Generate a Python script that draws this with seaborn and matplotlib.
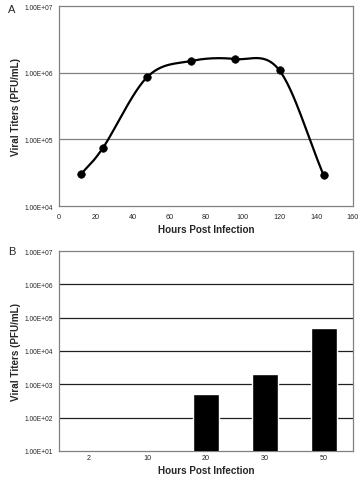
import numpy as np
import pandas as pd
import matplotlib
matplotlib.use("Agg")
import matplotlib.pyplot as plt
from matplotlib.ticker import FuncFormatter, FixedLocator
import seaborn as sns

# Panel A: time course
hours_a = [12, 24, 48, 72, 96, 120, 144]
titer_a = [3.0e4, 7.5e4, 8.6e5, 1.5e6, 1.6e6, 1.08e6, 2.9e4]

# Panel B: bar chart
hours_b = ["2", "10", "20", "30", "50"]
titer_b = [0, 0, 5.3e2, 2.0e3, 4.9e4]

sns.set_style("white")
plt.rcParams['font.family'] = ['Liberation Sans', 'DejaVu Sans']


def smooth(x, y, n=30):
    # Excel-like smoothed line: Catmull-Rom through the points in (x, log y)
    px = np.asarray(x, float)
    py = np.log10(np.asarray(y, float))
    px = np.concatenate([[2 * px[0] - px[1]], px, [2 * px[-1] - px[-2]]])
    py = np.concatenate([[2 * py[0] - py[1]], py, [2 * py[-1] - py[-2]]])
    xs, ys = [], []
    t = np.linspace(0, 1, n)
    for i in range(1, len(px) - 2):
        for arr, out in ((px, xs), (py, ys)):
            p0, p1, p2, p3 = arr[i - 1], arr[i], arr[i + 1], arr[i + 2]
            out.extend(0.5 * (2 * p1 + (-p0 + p2) * t
                              + (2 * p0 - 5 * p1 + 4 * p2 - p3) * t ** 2
                              + (-p0 + 3 * p1 - 3 * p2 + p3) * t ** 3))
    return np.array(xs), 10 ** np.array(ys)


sci = FuncFormatter(lambda v, pos: f"{v:.2E}")
frame = "#808080"
W, H = 361, 485

fig = plt.figure(figsize=(W / 100, H / 100), dpi=100)
axA = fig.add_axes([59 / W, 1 - 207 / H, 294 / W, 200 / H])
axB = fig.add_axes([59 / W, 1 - 452 / H, 294 / W, 200 / H])

# ---- Panel A
sx, sy = smooth(hours_a, titer_a)
curve = pd.DataFrame({"h": sx, "t": sy})
pts = pd.DataFrame({"h": hours_a, "t": titer_a})
axA.set_yscale("log")
sns.lineplot(data=curve, x="h", y="t", ax=axA, color="black", lw=1.6, sort=False)
sns.scatterplot(data=pts, x="h", y="t", ax=axA, color="black", s=30, edgecolor="black", zorder=5)
axA.set_xlim(0, 160)
axA.set_ylim(1e4, 1e7)
axA.set_xticks(range(0, 161, 20))
axA.yaxis.set_major_locator(FixedLocator([1e4, 1e5, 1e6, 1e7]))
axA.yaxis.set_minor_locator(FixedLocator([]))
axA.yaxis.set_major_formatter(sci)
for v in [1e5, 1e6]:
    axA.axhline(v, color="#808080", lw=0.9, zorder=0)

# ---- Panel B
bars = pd.DataFrame({"h": hours_b, "t": titer_b})
axB.set_yscale("log")
sns.barplot(data=bars, x="h", y="t", ax=axB, color="black", width=0.44,
            saturation=1, order=hours_b, zorder=3)
axB.set_xlim(-0.5, 4.5)
axB.set_ylim(1e1, 1e7)
axB.yaxis.set_major_locator(FixedLocator([10.0 ** k for k in range(1, 8)]))
axB.yaxis.set_minor_locator(FixedLocator([]))
axB.yaxis.set_major_formatter(sci)
axB.set_xticks(range(len(hours_b)))
axB.set_xticklabels(hours_b)
axB.set_xticks(np.arange(-0.5, 4.6, 1), minor=True)
axB.tick_params(axis="x", which="major", length=0)
axB.tick_params(axis="x", which="minor", length=3, color=frame, width=0.8)
for k in range(2, 7):
    axB.axhline(10.0 ** k, color="#202020", lw=0.9, zorder=0)

for ax in (axA, axB):
    for s in ax.spines.values():
        s.set_color(frame)
        s.set_linewidth(0.9)
    ax.tick_params(axis="y", which="major", length=3, color=frame, width=0.8,
                   labelsize=4.8, pad=1.5)
    ax.tick_params(axis="x", labelsize=5.2, pad=2)
    ax.set_xlabel("Hours Post Infection", fontsize=7.1, fontweight="bold", labelpad=3)
    ax.set_ylabel("Viral Titers (PFU/mL)", fontsize=7.1, fontweight="bold", labelpad=2)
axA.tick_params(axis="x", length=3, color=frame, width=0.8)

fig.text(12 / W, 1 - 10 / H, "A", fontsize=8, ha="center", va="center")
fig.text(12 / W, 1 - 252 / H, "B", fontsize=8, ha="center", va="center")

fig.savefig("out.png", dpi=100, facecolor="white")
